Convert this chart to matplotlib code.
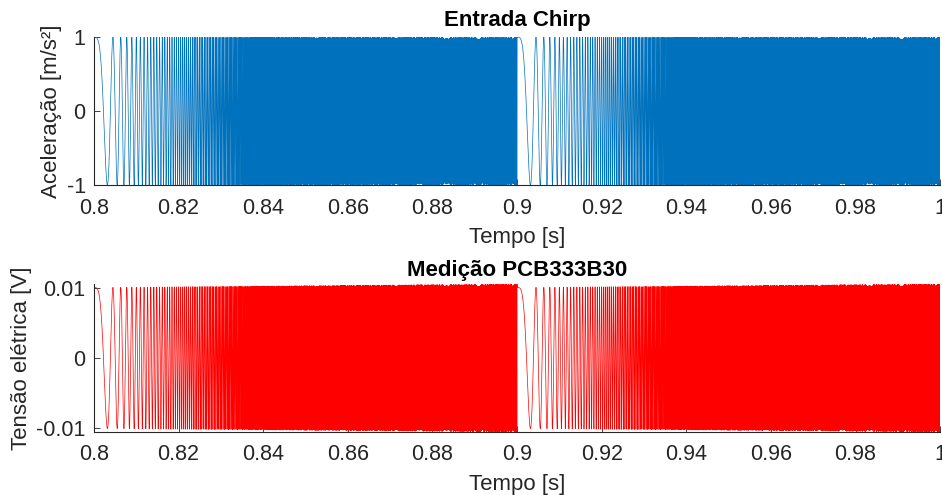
import numpy as np
import matplotlib.pyplot as plt

plt.rcParams['font.family'] = ['Liberation Sans', 'DejaVu Sans']

# chirp parameters
sweep_period = 0.1        # s, sweep restarts at 0.9
f_start = 0.0             # Hz
f_end = 10000.0           # Hz at end of each sweep
fs = 100000               # sample rate
t_from, t_to = 0.79, 1.0
accel_amp = 1.0
volt_amp_start = 0.0100   # sensor output at low frequency
volt_amp_end = 0.0105     # sensor output at high frequency

x_ticks = [0.8, 0.82, 0.84, 0.86, 0.88, 0.9, 0.92, 0.94, 0.96, 0.98, 1.0]
x_labels = ["0.8", "0.82", "0.84", "0.86", "0.88", "0.9", "0.92", "0.94", "0.96", "0.98", "1"]
acc_ticks = [-1, 0, 1]
acc_labels = ["-1", "0", "1"]
volt_ticks = [-0.01, 0, 0.01]
volt_labels = ["-0.01", "0", "0.01"]

t = np.arange(t_from, t_to, 1.0 / fs)
tau = np.mod(t, sweep_period)
k = (f_end - f_start) / sweep_period
phase = 2 * np.pi * (f_start * tau + 0.5 * k * tau**2)
accel = accel_amp * np.cos(phase)
volt_amp = np.interp(tau, [0, sweep_period], [volt_amp_start, volt_amp_end])
volt = volt_amp * np.cos(phase)

fig = plt.figure(figsize=(9.42, 4.95), dpi=100)
ax1 = fig.add_axes([0.0998, 0.626, 0.8982, 0.299])
ax2 = fig.add_axes([0.0998, 0.1273, 0.8982, 0.299])

dark = '#262626'
for ax in (ax1, ax2):
    ax.set_xlim(0.8, 1.0)
    ax.set_xticks(x_ticks)
    ax.set_xticklabels(x_labels)
    for s in ('top', 'right'):
        ax.spines[s].set_visible(False)
    for s in ('left', 'bottom'):
        ax.spines[s].set_color(dark)
        ax.spines[s].set_linewidth(0.8)
    ax.tick_params(direction='in', length=4, width=0.6, colors=dark, labelsize=15.5)
    ax.tick_params(axis='x', pad=9)
    ax.tick_params(axis='y', pad=6)
    ax.set_xlabel("Tempo [s]", fontsize=16, color=dark, labelpad=6)

ax1.plot(t, accel, color='#0072BD', linewidth=0.5)
ax1.set_ylim(-1, 1)
ax1.set_yticks(acc_ticks)
ax1.set_yticklabels(acc_labels)
ax1.set_ylabel("Aceleração [m/s²]", fontsize=16, color=dark, labelpad=3)
ax1.set_title("Entrada Chirp", fontsize=16, fontweight='bold', pad=8)

ax2.plot(t, volt, color='#FF0000', linewidth=0.5)
ax2.set_ylim(-0.0105, 0.0105)
ax2.set_yticks(volt_ticks)
ax2.set_yticklabels(volt_labels)
ax2.set_ylabel("Tensão elétrica [V]", fontsize=16, color=dark, labelpad=3)
ax2.set_title("Medição PCB333B30", fontsize=16, fontweight='bold', pad=6)

fig.savefig("out.png", dpi=100)
